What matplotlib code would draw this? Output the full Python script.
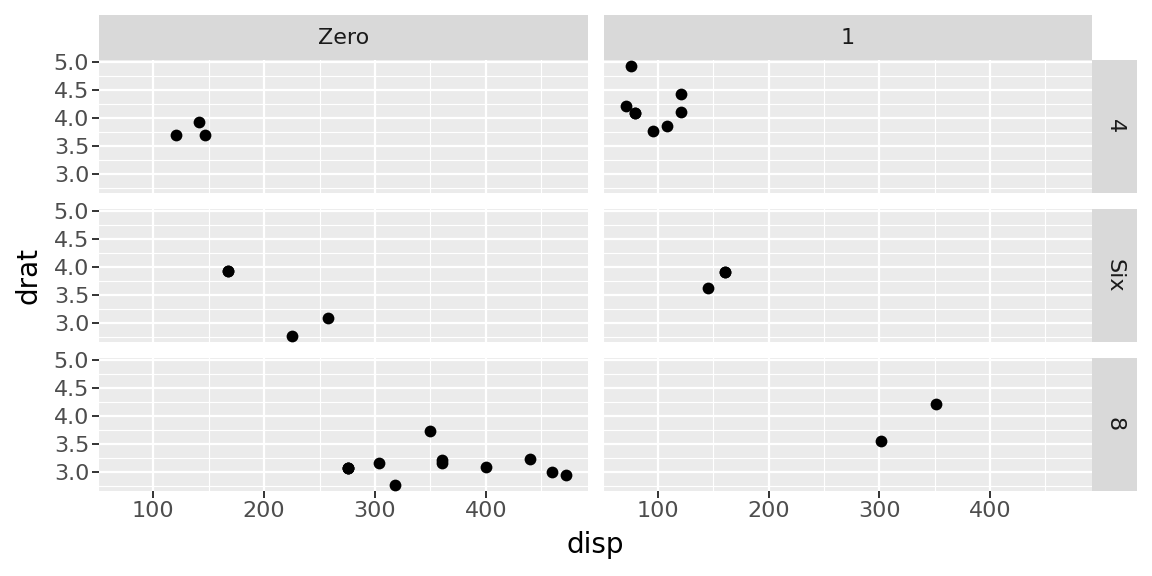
"""
mtcars: disp vs drat, facet grid cyl ~ am (ggplot2 look)
"""
import matplotlib
matplotlib.use("Agg")
import matplotlib.pyplot as plt
import numpy as np

# ============================================================
# data (mtcars)
# ============================================================
disp = [160, 160, 108, 258, 360, 225, 360, 146.7, 140.8, 167.6, 167.6,
        275.8, 275.8, 275.8, 472, 460, 440, 78.7, 75.7, 71.1, 120.1,
        318, 304, 350, 400, 79, 120.3, 95.1, 351, 145, 301, 121]
drat = [3.90, 3.90, 3.85, 3.08, 3.15, 2.76, 3.21, 3.69, 3.92, 3.92, 3.92,
        3.07, 3.07, 3.07, 2.93, 3.00, 3.23, 4.08, 4.93, 4.22, 3.70,
        2.76, 3.15, 3.73, 3.08, 4.08, 4.43, 3.77, 4.22, 3.62, 3.54, 4.11]
cyl = [6, 6, 4, 6, 8, 6, 8, 4, 4, 6, 6, 8, 8, 8, 8, 8, 8, 4, 4, 4, 4,
       8, 8, 8, 8, 4, 4, 4, 8, 6, 8, 4]
am = [1, 1, 1, 0, 0, 0, 0, 0, 0, 0, 0, 0, 0, 0, 0, 0, 0, 1, 1, 1, 0,
      0, 0, 0, 0, 1, 1, 1, 1, 1, 1, 1]

am_levels = [0, 1]
am_labels = ["Zero", "1"]
cyl_levels = [4, 6, 8]
cyl_labels = ["4", "Six", "8"]

x_ticks = [100, 200, 300, 400]
x_minor = [50, 150, 250, 350, 450]
y_ticks = [3.0, 3.5, 4.0, 4.5, 5.0]
y_minor = [2.75, 3.25, 3.75, 4.25, 4.75]

disp = np.array(disp)
drat = np.array(drat)
cyl = np.array(cyl)
am = np.array(am)

# ggplot-style 5% expansion
xlo, xhi = disp.min(), disp.max()
ylo, yhi = drat.min(), drat.max()
xpad = (xhi - xlo) * 0.05
ypad = (yhi - ylo) * 0.05

W, H = 1152, 576
fig = plt.figure(figsize=(W / 100, H / 100), dpi=100)


def px(x0, y0, x1, y1):
    return [x0 / W, 1 - y1 / H, (x1 - x0) / W, (y1 - y0) / H]


col_x = [(99, 588), (604, 1092)]
row_y = [(60, 193), (209, 342), (358, 491)]
strip_top = (15, 60)
strip_right = (1092, 1137)

grey30 = "#4D4D4D"
for r, c_lvl in enumerate(cyl_levels):
    for c, a_lvl in enumerate(am_levels):
        x0, x1 = col_x[c]
        y0, y1 = row_y[r]
        ax = fig.add_axes(px(x0, y0, x1, y1))
        ax.set_facecolor("#EBEBEB")
        for s in ax.spines.values():
            s.set_visible(False)
        ax.set_xlim(xlo - xpad, xhi + xpad)
        ax.set_ylim(ylo - ypad, yhi + ypad)
        for v in x_minor:
            ax.axvline(v, color="white", lw=0.8, zorder=0)
        for v in y_minor:
            ax.axhline(v, color="white", lw=0.8, zorder=0)
        for v in x_ticks:
            ax.axvline(v, color="white", lw=1.6, zorder=0)
        for v in y_ticks:
            ax.axhline(v, color="white", lw=1.6, zorder=0)
        m = (cyl == c_lvl) & (am == a_lvl)
        ax.scatter(disp[m], drat[m], s=72, color="black", linewidths=0, zorder=3)

        ax.set_xticks(x_ticks)
        ax.set_yticks(y_ticks)
        ax.tick_params(colors="#333333", labelcolor=grey30, labelsize=16,
                       length=5, width=1.4, pad=2)
        if r < 2:
            ax.tick_params(axis="x", length=0, labelbottom=False)
        if c > 0:
            ax.tick_params(axis="y", length=0, labelleft=False)
        else:
            ax.set_yticklabels([f"{v:.1f}" for v in y_ticks])

        # top strips
        if r == 0:
            sx = fig.add_axes(px(x0, strip_top[0], x1, strip_top[1]))
            sx.set_facecolor("#D9D9D9")
            sx.set_xticks([]); sx.set_yticks([])
            for s in sx.spines.values():
                s.set_visible(False)
            sx.text(0.5, 0.5, am_labels[c], ha="center", va="center",
                    fontsize=16, color="#1A1A1A", transform=sx.transAxes)
        # right strips
        if c == 1:
            sx = fig.add_axes(px(strip_right[0], y0, strip_right[1], y1))
            sx.set_facecolor("#D9D9D9")
            sx.set_xticks([]); sx.set_yticks([])
            for s in sx.spines.values():
                s.set_visible(False)
            sx.text(0.5, 0.5, cyl_labels[r], ha="center", va="center",
                    rotation=-90, fontsize=16, color="#1A1A1A",
                    transform=sx.transAxes)

fig.text(595.5 / W, 1 - 545 / H, "disp", ha="center", va="center",
         fontsize=20, color="black")
fig.text(28 / W, 1 - 275 / H, "drat", ha="center", va="center",
         rotation=90, fontsize=20, color="black")

fig.savefig("out.png", dpi=100)
plt.close(fig)
print("[OK] out.png")
